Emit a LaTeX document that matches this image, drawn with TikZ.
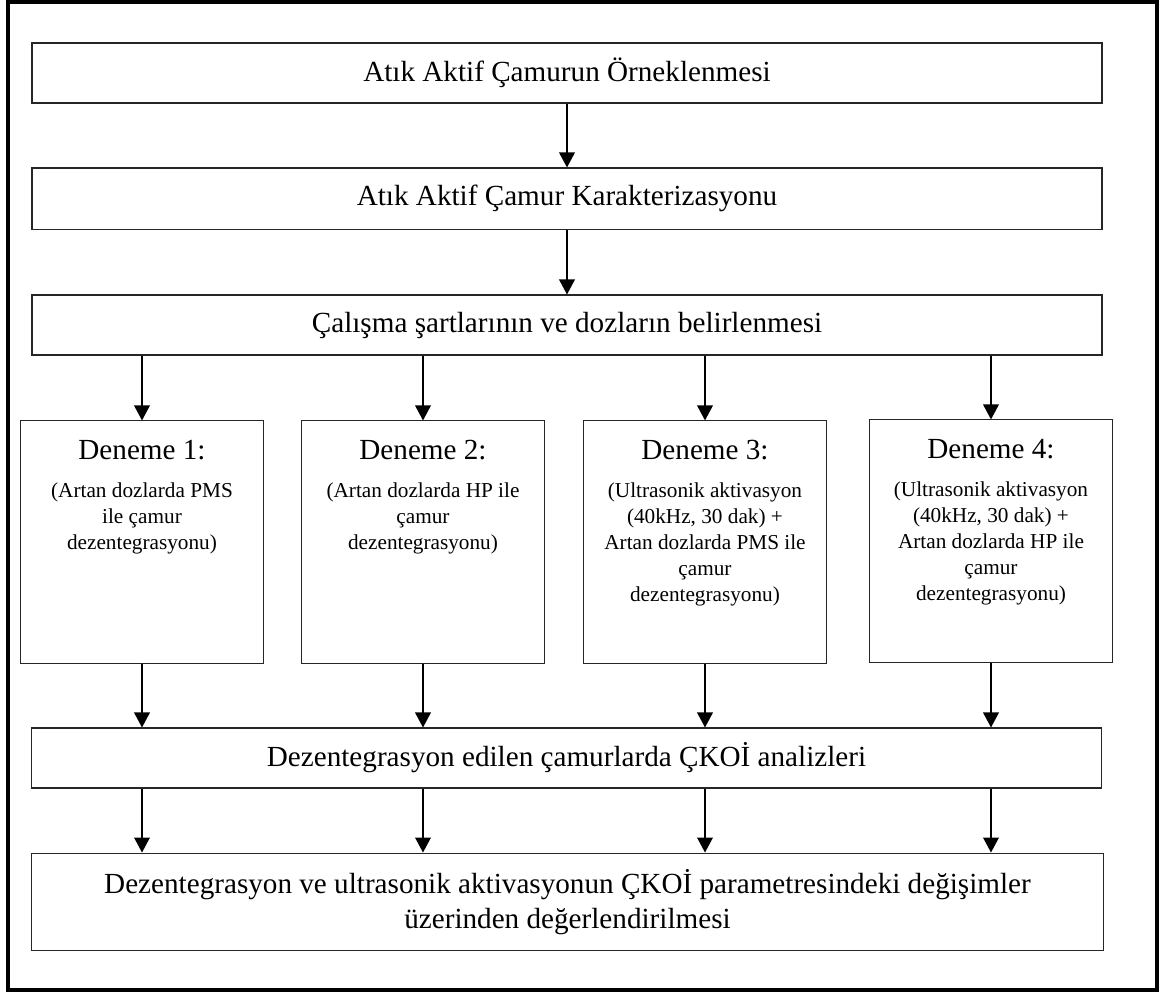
\documentclass[tikz,border=0pt]{standalone}
\usepackage{fontspec}
\setmainfont{Liberation Serif}
\usetikzlibrary{arrows.meta}

\newcommand{\denemetxt}[2]{\parbox[c][116pt][t]{114pt}{\centering
	\fontsize{14}{16.8}\selectfont\rule{0pt}{18.4pt}#1\par\vspace{5.5pt}
	\fontsize{10.2}{12.5}\selectfont #2}}

\begin{document}
\begin{tikzpicture}[x=0.48pt, y=-0.48pt, font=\fontsize{14}{16.8}\selectfont]
	\tikzstyle{every node}=[align=center, inner sep=0pt]
	\tikzstyle{box}=[draw=black!85, line width=0.5pt, minimum width=513.6pt, minimum height=28.8pt]
	\tikzstyle{denemebox}=[draw=black!85, line width=0.5pt, minimum width=116.2pt, minimum height=116.2pt]
	\tikzstyle{arr}=[-{Triangle[length=7.2pt, width=7.5pt]}, line width=0.8pt]

	\useasboundingbox (0,0) rectangle (1159,992);
	\draw[line width=1.8pt] (8,2) rectangle (1157,990);

		\node[box] (ornek) at (567, 73) {Atık Aktif Çamurun Örneklenmesi};
		\node[box, minimum height=29.3pt] (karakter) at (567, 198.5) {Atık Aktif Çamur Karakterizasyonu};
		\node[box] (sart) at (567, 325) {Çalışma şartlarının ve dozların belirlenmesi};
		\node[denemebox] (deneme1) at (142, 542) {\denemetxt{Deneme 1:}{(Artan dozlarda PMS\\ ile çamur\\ dezentegrasyonu)}};
		\node[denemebox] (deneme2) at (423, 542) {\denemetxt{Deneme 2:}{(Artan dozlarda HP ile\\ çamur\\ dezentegrasyonu)}};
		\node[denemebox] (deneme3) at (705, 542) {\denemetxt{Deneme 3:}{(Ultrasonik aktivasyon\\ (40kHz, 30 dak) +\\ Artan dozlarda PMS ile\\ çamur\\ dezentegrasyonu)}};
		\node[denemebox] (deneme4) at (991, 541) {\denemetxt{Deneme 4:}{(Ultrasonik aktivasyon\\ (40kHz, 30 dak) +\\ Artan dozlarda HP ile\\ çamur\\ dezentegrasyonu)}};
		\node[box, minimum width=514pt] (ckoi) at (566.5, 758) {Dezentegrasyon edilen çamurlarda ÇKOİ analizleri};
		\node[box, minimum width=515pt, minimum height=47pt] (sonuc) at (567.5, 902) {Dezentegrasyon ve ultrasonik aktivasyonun ÇKOİ parametresindeki değişimler\\ üzerinden değerlendirilmesi};

		\draw[arr] (ornek.south) -- (karakter.north);
		\draw[arr] (karakter.south) -- (sart.north);
		\foreach \d in {deneme1, deneme2, deneme3, deneme4} {
			\draw[arr] (sart.south -| \d.north) -- (\d.north);
			\draw[arr] (\d.south) -- (ckoi.north -| \d.south);
			\draw[arr] (ckoi.south -| \d.south) -- (sonuc.north -| \d.south);
		}
\end{tikzpicture}
\end{document}
